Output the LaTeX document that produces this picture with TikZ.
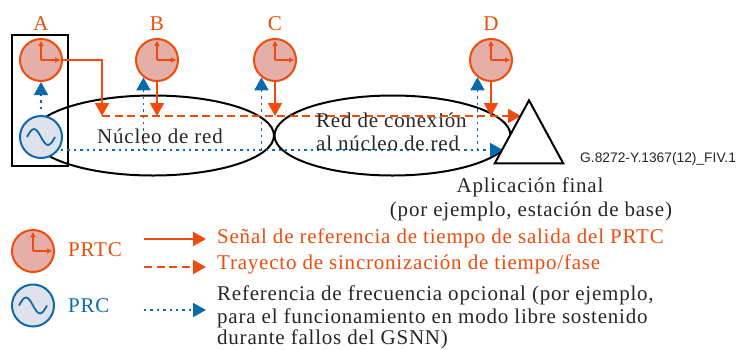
\documentclass[tikz,border=0pt]{standalone}
\usepackage{fontspec}
\setmainfont[LetterSpace=3.7]{Liberation Serif}
\newfontfamily\figsans{Liberation Sans}
\usepackage{tikz}
\usetikzlibrary{shapes.geometric, positioning, arrows.meta}
\definecolor{sigred}{HTML}{EE4B0C}
\definecolor{refblue}{HTML}{0B69AE}
\definecolor{clkfill}{HTML}{E5AFA7}
\definecolor{oscfill}{HTML}{DFE2EC}
\definecolor{inkgray}{HTML}{262626}
\NewDocumentCommand{\clockhands}{m}{%
    \draw[hand] (#1.center) -- ++(0,-19);
    \draw[hand] (#1.center) -- ++(19,0);
}
\NewDocumentCommand{\sinewave}{m}{%
    \draw[refblue, line width=1.8pt] ([xshift=-14pt]#1.center) sin ++(7,-8) cos ++(7,8) sin ++(7,8) cos ++(7,-8);
}

\begin{document}
\begin{tikzpicture}[x=1pt, y=-1pt, font=\fontsize{21}{24}\selectfont, text=inkgray,
                    clock/.style = {draw=sigred, fill=clkfill, circle, line width=2pt, minimum size=42pt, inner sep=0},
                    osci/.style = {draw=refblue, fill=oscfill, circle, line width=2pt, minimum size=42pt, inner sep=0},
                    net/.style = {draw=black, ellipse, line width=2pt, inner sep=0, minimum height=80pt},
                    hand/.style = {draw=sigred, line width=1.5pt, -{Triangle[length=5pt, width=5pt]}},
                    sig/.style = {draw=sigred, line width=1.8pt, -{Triangle[length=13pt, width=14pt]}},
                    sync/.style = {sig, dash pattern=on 8pt off 4.5pt},
                    ref/.style = {draw=refblue, line width=1.8pt, dash pattern=on 2.4pt off 4pt, -{Triangle[length=13pt, width=14pt]}},
                    redlab/.style = {text=sigred},
                    bluelab/.style = {text=refblue},
                    legend/.style = {anchor=west, inner sep=0}]
    \useasboundingbox (0,0) rectangle (739,349);

    \node[net, minimum width=242pt] (core) at (153,135.5) {};
    \node[net, minimum width=236pt] (backhaul) at (392.5,135.5) {};
    \node[draw=black, line width=2pt, minimum width=56pt, minimum height=131pt, inner sep=0] (box) at (40,100.5) {};

    \node[clock] (clka) at (41,60) {};
    \node[clock] (clkb) at (157,60) {};
    \node[clock] (clkc) at (275,60) {};
    \node[clock] (clkd) at (491,60) {};
    \node[osci] (osc) at (41,137) {};
    \foreach \c in {clka, clkb, clkc, clkd} {\clockhands{\c}}
    \sinewave{osc}

    \node[redlab] (la) at (41,24) {A};
    \node[redlab] (lb) at (157,24) {B};
    \node[redlab] (lc) at (275,24) {C};
    \node[redlab] (ld) at (491,24) {D};

    \coordinate (p1) at (102,60);
    \coordinate (p2) at (102,116);
    \coordinate (ptip) at (521,116);
    \coordinate (fstart) at (61,150);
    \coordinate (ftip) at (503,150);

    \draw[sync] (p2) -- (ptip);
    \draw[sig] (clka.east) -- (p1) -- (p2);
    \draw[sig] (clkb.south) -- (clkb.south |- p2);
    \draw[sig] (clkc.south) -- (clkc.south |- p2);
    \draw[sig] (clkd.south) -- (clkd.south |- p2);

    \draw[ref] ([yshift=6pt]osc.north) -- (clka.south);
    \draw[ref] (fstart) -- (ftip);
    \draw[ref] (clkb.232 |- ftip) -- (clkb.232);
    \draw[ref] (clkc.232 |- ftip) -- (clkc.232);
    \draw[ref] (clkd.232 |- ftip) -- (clkd.232);

    \node[draw=black, fill=white, isosceles triangle, isosceles triangle apex angle=57, shape border rotate=90, line width=2pt, inner sep=0, minimum height=63pt, minimum width=68pt] (enda) at (529,143) {};

    \node (tcore) at (160,136) {Núcleo de red};
    \node[legend] (tb1) at (316,120) {Red de conexión};
    \node[legend] (tb2) at (316,143) {al núcleo de red};
    \node[anchor=west, inner sep=0, font=\figsans\fontsize{13.8}{16}\selectfont] (tcode) at (580,159) {G.8272-Y.1367(12)\_FIV.1};
    \node (tend1) at (530,187) {Aplicación final};
    \node (tend2) at (531,211) {(por ejemplo, estación de base)};

    % leyenda
    \node[clock] (lclk) at (33,251) {};
    \clockhands{lclk}
    \node[osci] (losc) at (33,305.5) {};
    \sinewave{losc}
    \node[legend, redlab] (lprtc) at (68,250) {PRTC};
    \node[legend, bluelab] (lprc) at (68,306) {PRC};

    \node[legend, redlab] (t1) at (217,238) {Señal de referencia de tiempo de salida del PRTC};
    \node[legend, redlab] (t2) at (217,264) {Trayecto de sincronización de tiempo/fase};
    \node[legend] (t3) at (217,295) {Referencia de frecuencia opcional (por ejemplo,};
    \node[legend] (t4) at (217,318) {para el funcionamiento en modo libre sostenido};
    \node[legend] (t5) at (217,339) {durante fallos del GSNN)};

    \coordinate (s1) at (144,239);
    \coordinate (e1) at (206,239);
    \coordinate (s2) at (144,267);
    \coordinate (e2) at (206,267);
    \coordinate (s3) at (144,310);
    \coordinate (e3) at (206,310);
    \draw[sig] (s1) -- (e1);
    \draw[sync] (s2) -- (e2);
    \draw[ref] (s3) -- (e3);
\end{tikzpicture}
\end{document}
